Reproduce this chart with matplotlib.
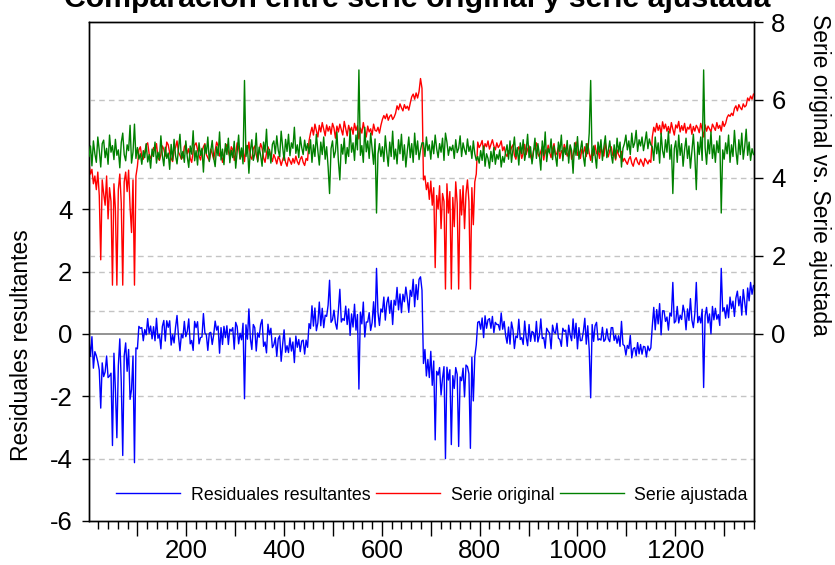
import matplotlib.pyplot as plt
from matplotlib.ticker import MultipleLocator, FuncFormatter
import numpy as np

plt.rcParams['font.family'] = ['Liberation Sans', 'DejaVu Sans']
plt.rcParams['axes.unicode_minus'] = False

# Serie original (una observación cada 3 periodos)
serie_original = [
    # 1 - 100
    4.35, 4.10, 4.22, 3.85, 4.05, 3.70, 4.15, 3.55, 1.90, 3.95,
    3.60, 3.30, 4.05, 2.95, 3.75, 3.40, 1.25, 3.85, 3.20, 1.25,
    3.70, 4.10, 3.35, 1.25, 3.90, 4.15, 3.65, 4.20, 3.25, 2.60,
    3.95, 1.25, 4.05, 4.30,
    # 103 - 448
    4.72, 4.80, 4.55, 4.48, 4.66, 4.85, 4.90, 4.62, 4.50, 4.58,
    4.78, 4.70, 4.88, 4.52, 4.45, 4.60, 4.82, 4.74, 4.56, 4.92,
    4.85, 4.64, 4.50, 4.42, 4.70, 4.78, 4.95, 4.66, 4.58, 4.48,
    4.55, 4.80, 4.86, 4.62, 4.75, 4.50, 4.40, 4.68, 4.84, 4.90,
    4.72, 4.58, 4.46, 4.66, 4.80, 4.88, 4.60, 4.52, 4.44, 4.74,
    4.62, 4.48, 4.70, 4.92, 4.82, 4.56, 4.66, 4.40, 4.58, 4.76,
    4.86, 4.68, 4.54, 4.80, 4.72, 4.45, 4.62, 4.90, 4.78, 4.50,
    4.58, 4.70, 4.42, 4.84, 4.66, 4.92, 4.55, 4.48, 4.75, 4.82,
    4.60, 4.44, 4.68, 4.88, 4.76, 4.52, 4.40, 4.64, 4.80, 4.70,
    4.56, 4.42, 4.60, 4.50, 4.36, 4.55, 4.48, 4.32, 4.46, 4.58,
    4.40, 4.30, 4.52, 4.44, 4.35, 4.50, 4.38, 4.56, 4.42, 4.34,
    4.48, 4.55, 4.40, 4.32, 4.50, 4.45,
    # 451 - 598
    4.95, 5.15, 5.30, 5.10, 5.38, 5.22, 5.05, 5.35, 5.18, 5.42,
    5.25, 5.08, 5.36, 5.20, 5.32, 5.12, 5.40, 5.28, 5.02, 5.33,
    5.18, 5.38, 5.24, 5.10, 5.45, 5.26, 5.08, 5.35, 5.20, 5.30,
    5.12, 5.40, 5.22, 5.34, 5.00, 5.28, 5.15, 5.42, 5.20, 5.05,
    5.33, 5.18, 5.26, 5.10, 5.38, 5.22, 5.20, 5.30, 5.15, 5.35,
    # 601 - 682
    5.50, 5.60, 5.52, 5.64, 5.48, 5.58, 5.62, 5.50, 5.56, 5.66,
    5.85, 5.75, 5.90, 5.80, 5.72, 5.88, 5.78, 5.84, 5.74, 5.92,
    6.08, 6.15, 6.02, 6.18, 6.05, 6.22, 6.55, 6.30,
    # 685 - 793
    3.95, 4.05, 3.70, 3.88, 3.45, 3.92, 3.30, 3.75, 1.70, 3.55,
    3.20, 3.80, 2.70, 3.60, 3.40, 1.15, 3.85, 3.10, 3.65, 1.15,
    3.50, 2.75, 3.90, 3.35, 1.15, 3.70, 3.05, 3.80, 2.70, 3.60,
    3.95, 3.40, 1.15, 3.75, 2.80, 3.90, 4.10,
    # 796 - 1150
    4.92, 4.78, 4.85, 4.96, 4.70, 4.88, 4.80, 4.95, 4.74, 4.86,
    4.98, 4.82, 4.72, 4.90, 4.78, 4.84, 4.95, 4.70, 4.80, 4.62,
    4.55, 4.70, 4.62, 4.78, 4.85, 4.58, 4.48, 4.66, 4.80, 4.72,
    4.50, 4.64, 4.86, 4.60, 4.74, 4.82, 4.56, 4.44, 4.70, 4.78,
    4.90, 4.62, 4.54, 4.68, 4.80, 4.46, 4.72, 4.60, 4.84, 4.66,
    4.52, 4.75, 4.88, 4.58, 4.64, 4.78, 4.50, 4.70, 4.62, 4.86,
    4.72, 4.56, 4.66, 4.82, 4.48, 4.60, 4.76, 4.92, 4.58, 4.68,
    4.50, 4.74, 4.62, 4.80, 4.55, 4.88, 4.64, 4.45, 4.70, 4.58,
    4.84, 4.62, 4.72, 4.50, 4.78, 4.66, 4.56, 4.90, 4.68, 4.54,
    4.70, 4.80, 4.58, 4.64, 4.46, 4.72, 4.60, 4.52, 4.68, 4.42,
    4.50, 4.42, 4.35, 4.48, 4.55, 4.38, 4.30, 4.46, 4.52, 4.40,
    4.34, 4.48, 4.40, 4.30, 4.50, 4.44, 4.36, 4.46, 4.40,
    # 1153 - 1303
    5.05, 5.30, 5.18, 5.40, 5.22, 5.35, 5.12, 5.44, 5.26, 5.38,
    5.20, 5.32, 5.15, 5.42, 5.25, 5.10, 5.36, 5.28, 5.45, 5.18,
    5.34, 5.22, 5.40, 5.15, 5.30, 5.25, 5.38, 5.12, 5.32, 5.20,
    5.35, 5.28, 5.16, 5.40, 5.24, 5.05, 5.36, 5.20, 5.33, 5.26,
    5.18, 5.38, 5.30, 5.22, 5.42, 5.27, 5.35, 5.20, 5.45, 5.32, 5.40,
    # 1306 - 1360
    5.55, 5.62, 5.58, 5.66, 5.60, 5.78, 5.85, 5.72, 5.88, 5.80,
    5.75, 5.90, 5.82, 5.86, 6.05, 5.98, 6.10, 6.02, 6.15,
]

# Serie ajustada por el modelo
serie_ajustada = [
    # 1 - 100
    4.55, 4.82, 4.31, 4.95, 4.62, 4.40, 5.05, 4.71, 4.28, 4.88,
    4.97, 4.52, 4.76, 4.35, 5.10, 4.66, 4.83, 4.47, 4.99, 4.58,
    4.72, 4.26, 4.91, 5.15, 4.60, 4.44, 4.85, 4.70, 5.35, 4.38,
    4.66, 5.38, 4.50, 4.78,
    # 103 - 448
    4.48, 4.62, 4.35, 4.70, 4.52, 4.88, 4.41, 4.60, 4.25, 4.74,
    4.55, 4.92, 4.38, 4.66, 4.47, 5.08, 4.58, 4.31, 4.79, 4.50,
    4.64, 4.22, 4.86, 4.45, 4.99, 4.57, 4.36, 4.73, 5.12, 4.49,
    4.68, 4.40, 4.95, 4.54, 4.27, 4.82, 4.61, 5.21, 4.44, 4.70,
    4.33, 4.90, 4.58, 4.76, 4.15, 4.85, 4.63, 5.05, 4.42, 4.69,
    4.96, 4.51, 4.29, 4.80, 4.57, 5.18, 4.46, 4.74, 4.34, 4.88,
    4.60, 5.02, 4.39, 4.71, 4.52, 4.94, 4.25, 4.67, 5.10, 4.48,
    4.77, 4.36, 6.50, 4.55, 4.83, 4.12, 4.70, 4.98, 4.45, 4.62,
    5.15, 4.41, 4.79, 4.58, 4.30, 4.92, 4.66, 5.25, 4.49, 4.73,
    4.38, 4.86, 4.95, 4.62, 5.08, 4.71, 4.54, 5.20, 4.80, 4.45,
    4.99, 4.68, 5.12, 4.57, 4.90, 4.76, 5.30, 4.63, 4.85, 4.52,
    5.05, 4.78, 4.60, 4.97, 4.70, 4.88,
    # 451 - 598
    4.62, 4.98, 4.40, 4.85, 4.55, 5.12, 4.70, 4.33, 4.92, 4.60,
    5.05, 4.48, 4.80, 4.28, 3.60, 4.75, 4.95, 4.52, 4.68, 5.18,
    4.44, 3.95, 4.86, 4.61, 5.02, 4.37, 4.78, 4.55, 5.25, 4.66,
    4.90, 4.45, 5.10, 4.72, 6.77, 4.58, 4.83, 4.40, 5.30, 4.67,
    4.95, 4.50, 5.15, 4.74, 4.35, 5.00, 3.10, 4.62, 4.88, 4.55,
    # 601 - 682
    4.80, 4.42, 5.08, 4.65, 4.30, 4.92, 4.55, 5.20, 4.48, 4.74,
    4.36, 4.98, 4.62, 5.12, 4.45, 4.85, 4.28, 4.70, 5.05, 4.52,
    4.88, 4.40, 5.15, 4.60, 4.95, 4.47, 4.72, 4.90,
    # 685 - 793
    4.90, 4.55, 5.05, 4.70, 4.85, 4.48, 4.95, 4.62, 5.10, 4.75,
    4.52, 4.88, 4.66, 5.02, 4.45, 5.15, 4.92, 4.58, 4.80, 4.70,
    4.84, 4.50, 4.98, 4.65, 4.76, 5.08, 4.55, 4.90, 4.72, 4.60,
    5.00, 4.68, 4.82, 4.50, 4.95, 4.62, 4.45,
    # 796 - 1150
    4.55, 4.38, 4.70, 4.45, 4.82, 4.30, 4.62, 4.50, 4.25, 4.68,
    4.42, 4.78, 4.35, 4.60, 4.48, 4.72, 4.28, 4.55, 4.40, 4.66,
    4.85, 4.48, 4.95, 4.40, 4.72, 5.05, 4.55, 4.78, 4.33, 4.90,
    4.62, 4.98, 4.45, 4.70, 5.12, 4.52, 4.80, 4.36, 4.66, 5.02,
    4.50, 4.88, 4.60, 4.20, 4.95, 4.58, 5.18, 4.42, 4.75, 4.64,
    5.00, 4.47, 4.82, 4.56, 4.30, 4.92, 4.68, 5.10, 4.44, 4.78,
    4.60, 4.96, 4.38, 4.85, 4.70, 4.12, 4.90, 4.58, 5.06, 4.48,
    4.72, 4.95, 4.55, 4.30, 4.88, 4.62, 5.15, 6.50, 4.40, 4.82,
    4.58, 4.25, 4.92, 4.66, 4.98, 4.45, 4.80, 5.08, 4.52, 4.70,
    4.95, 4.60, 4.38, 4.85, 4.50, 5.02, 4.66, 4.92, 4.28, 4.76,
    4.88, 5.10, 4.72, 4.95, 4.60, 5.15, 4.78, 4.90, 5.22, 4.68,
    4.98, 4.82, 5.05, 4.70, 4.92, 5.18, 4.75, 5.00, 4.85,
    # 1153 - 1303
    4.80, 4.45, 5.05, 4.62, 4.90, 4.38, 5.15, 4.70, 4.52, 4.98,
    4.66, 5.20, 4.48, 4.85, 3.60, 4.75, 4.95, 4.40, 5.10, 4.58,
    4.88, 4.30, 4.72, 5.02, 4.50, 4.82, 4.25, 4.68, 5.12, 4.55,
    3.70, 4.92, 4.60, 5.05, 4.45, 6.77, 4.78, 4.35, 4.98, 4.62,
    5.18, 4.50, 4.85, 4.40, 4.95, 4.65, 5.08, 3.10, 4.72, 4.48, 4.90,
    # 1306 - 1360
    4.62, 5.10, 4.40, 4.85, 4.55, 5.22, 4.70, 4.35, 4.98, 4.60,
    5.15, 4.48, 4.80, 5.25, 4.58, 4.92, 4.45, 4.75, 4.60,
]

# Error estándar de la regresión (bandas de los residuales)
error_estandar = 0.72

original = np.array(serie_original)
ajustada = np.array(serie_ajustada)
residuales = original - ajustada
obs = np.arange(len(original)) * 3 + 1

fig = plt.figure(figsize=(8.35, 5.65), dpi=100)
ax = fig.add_axes([89 / 835, 44 / 565, 665 / 835, 499 / 565])
ax2 = ax.twinx()

guion = dict(color='#c4c4c4', lw=1.0, linestyle=(0, (4, 3)), zorder=0)

# eje izquierdo: residuales
for nivel in [-4, -2, 2, 4, -error_estandar, error_estandar]:
    ax.axhline(nivel, **guion)
ax.axhline(0, color='#8a8a8a', lw=1.3, zorder=1)
l_res, = ax.plot(obs, residuales, color='#0000ff', lw=1.0, zorder=2,
                 label='Residuales resultantes')

# eje derecho: serie original y ajustada
for nivel in [2, 4, 6]:
    ax2.axhline(nivel, **guion)
l_orig, = ax2.plot(obs, original, color='#ff0000', lw=1.0, zorder=2,
                   label='Serie original')
l_ajus, = ax2.plot(obs, ajustada, color='#008000', lw=1.0, zorder=3,
                   label='Serie ajustada')

ax.set_xlim(1, 1361)
ax.set_ylim(-6, 10)
ax2.set_ylim(-4.8, 8)
ax.set_yticks([-6, -4, -2, 0, 2, 4])
ax2.set_yticks([0, 2, 4, 6, 8])

ax.xaxis.set_major_locator(MultipleLocator(100))
ax.xaxis.set_minor_locator(MultipleLocator(20))
ax.xaxis.set_major_formatter(FuncFormatter(lambda v, p: f'{v:.0f}' if v % 200 == 0 else ''))

ax.tick_params(axis='x', which='major', length=11, width=1, labelsize=18.5, pad=2)
ax.tick_params(axis='x', which='minor', length=6, width=1)
ax.tick_params(axis='y', length=5, width=1, labelsize=18.5, pad=7)
ax2.tick_params(axis='y', length=6.5, width=1, labelsize=18.5, pad=6)

for a in (ax, ax2):
    for s in a.spines.values():
        s.set_linewidth(1.0)
        s.set_color('black')

ax2.legend(handles=[l_res, l_orig, l_ajus], loc='center', bbox_to_anchor=(0.516, 0.052),
           ncol=3, frameon=False, fontsize=12.8, handlelength=3.6, handletextpad=0.6,
           columnspacing=0.3, borderpad=0)

fig.text(0.5, 1 - 7 / 565, 'Comparación entre serie original y serie ajustada',
         ha='center', va='baseline', fontsize=21.8, fontweight='bold')
fig.text(22 / 835, 1 - 345 / 565, 'Residuales resultantes', rotation=90,
         ha='center', va='center', fontsize=16.5)
fig.text(820 / 835, 1 - 175 / 565, 'Serie original vs. Serie ajustada', rotation=270,
         ha='center', va='center', fontsize=16.5)

fig.savefig('out.png', dpi=100)
